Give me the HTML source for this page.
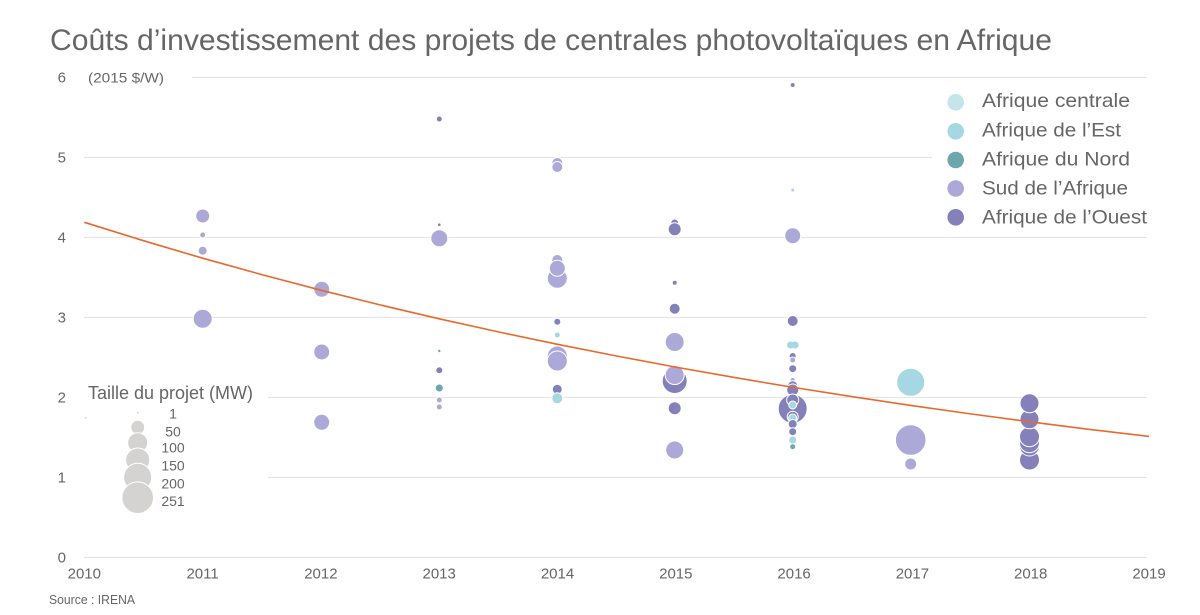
<!DOCTYPE html>
<html>
<head>
<meta charset="utf-8">
<style>
  html,body{margin:0;padding:0;background:#fff;}
  svg{display:block;}
  text{font-family:"Liberation Sans", sans-serif;fill:#666;}
</style>
</head>
<body>
<svg width="1200" height="615" viewBox="0 0 1200 615" xmlns="http://www.w3.org/2000/svg">
  <rect width="1200" height="615" fill="#fff"/>

  <!-- Title -->
  <text x="50" y="50" font-size="30" textLength="1002" lengthAdjust="spacingAndGlyphs" fill="#646464">Coûts d’investissement des projets de centrales photovoltaïques en Afrique</text>

  <!-- gridlines -->
  <g stroke="#e6e6e6" stroke-width="1.2">
    <line x1="192" y1="77.5" x2="1147" y2="77.5"/>
    <line x1="84" y1="157.5" x2="932" y2="157.5"/>
    <line x1="84" y1="237.5" x2="1147" y2="237.5"/>
    <line x1="84" y1="317.5" x2="1147" y2="317.5"/>
    <line x1="268" y1="397.5" x2="1147" y2="397.5"/>
    <line x1="268" y1="477.5" x2="1147" y2="477.5"/>
    <line x1="84" y1="557.5" x2="1147" y2="557.5"/>
  </g>

  <!-- y labels -->
  <g font-size="15" text-anchor="end">
    <text x="66" y="82.7">6</text>
    <text x="66" y="162.7">5</text>
    <text x="66" y="242.7">4</text>
    <text x="66" y="322.7">3</text>
    <text x="66" y="402.7">2</text>
    <text x="66" y="482.7">1</text>
    <text x="66" y="562.7">0</text>
  </g>
  <text x="88" y="82.5" font-size="14" textLength="76" lengthAdjust="spacingAndGlyphs">(2015 $/W)</text>

  <!-- x labels -->
  <g font-size="15" text-anchor="middle">
    <text x="84.3" y="578.5">2010</text>
    <text x="202.6" y="578.5">2011</text>
    <text x="320.9" y="578.5">2012</text>
    <text x="439.2" y="578.5">2013</text>
    <text x="557.5" y="578.5">2014</text>
    <text x="675.8" y="578.5">2015</text>
    <text x="794.1" y="578.5">2016</text>
    <text x="912.4" y="578.5">2017</text>
    <text x="1030.7" y="578.5">2018</text>
    <text x="1149" y="578.5">2019</text>
  </g>
  <text x="49" y="604" font-size="12.5" textLength="86" lengthAdjust="spacingAndGlyphs">Source : IRENA</text>

  <!-- data points -->
  <g stroke="#fff" stroke-width="1">
    <!-- 2010 -->
    <circle cx="85.7" cy="417.7" r="0.8" fill="#a5d8e2" stroke="none"/>
    <!-- 2011 -->
    <circle cx="202.7" cy="216" r="7" fill="#aca8d8"/>
    <circle cx="202.7" cy="235" r="3" fill="#aca8d8"/>
    <circle cx="202.7" cy="250.7" r="4.5" fill="#aca8d8"/>
    <circle cx="202.7" cy="318.7" r="9.5" fill="#aca8d8"/>
    <!-- 2012 -->
    <circle cx="321.7" cy="289.3" r="8" fill="#aca8d8"/>
    <circle cx="321.7" cy="352" r="8" fill="#aca8d8"/>
    <circle cx="321.7" cy="422.3" r="8" fill="#aca8d8"/>
    <!-- 2013 -->
    <circle cx="439.3" cy="119" r="2.5" fill="#8480ba" stroke="none"/>
    <circle cx="439.3" cy="224.7" r="1.3" fill="#8480ba" stroke="none"/>
    <circle cx="439.3" cy="238.3" r="8.5" fill="#aca8d8"/>
    <circle cx="439.3" cy="351" r="1.2" fill="#6ea6b0" stroke="none"/>
    <circle cx="439.3" cy="370.3" r="3.5" fill="#8480ba"/>
    <circle cx="439.3" cy="388" r="4" fill="#6ea6b0"/>
    <circle cx="439.3" cy="400" r="3" fill="#aca8d8"/>
    <circle cx="439.3" cy="407" r="3" fill="#aca8d8"/>
    <!-- 2014 -->
    <circle cx="557.3" cy="163" r="5.5" fill="#aca8d8"/>
    <circle cx="557.3" cy="167" r="5.5" fill="#aca8d8"/>
    <circle cx="557.3" cy="278.3" r="10" fill="#aca8d8"/>
    <circle cx="557.3" cy="260" r="5.5" fill="#aca8d8"/>
    <circle cx="557.3" cy="268.3" r="8" fill="#aca8d8"/>
    <circle cx="557.3" cy="321.7" r="3.5" fill="#8480ba"/>
    <circle cx="557.3" cy="335" r="3" fill="#a5d8e2"/>
    <circle cx="557.3" cy="356" r="10" fill="#aca8d8"/>
    <circle cx="557.3" cy="361" r="10" fill="#aca8d8"/>
    <circle cx="557.3" cy="389.3" r="5" fill="#8480ba"/>
    <circle cx="557.3" cy="398.3" r="5.5" fill="#a5d8e2"/>
    <!-- 2015 -->
    <circle cx="674.7" cy="223" r="4" fill="#8480ba"/>
    <circle cx="674.7" cy="229.3" r="6.5" fill="#8480ba"/>
    <circle cx="674.7" cy="282.7" r="2.5" fill="#8480ba"/>
    <circle cx="674.7" cy="308.7" r="5.5" fill="#8480ba"/>
    <circle cx="674.7" cy="342" r="9.5" fill="#aca8d8"/>
    <circle cx="674.7" cy="381" r="12.5" fill="#8480ba"/>
    <circle cx="674.7" cy="375" r="9.5" fill="#aca8d8"/>
    <circle cx="674.7" cy="408.3" r="6.5" fill="#8480ba"/>
    <circle cx="674.7" cy="450" r="9" fill="#aca8d8"/>
    <!-- 2016 -->
    <circle cx="792.7" cy="85" r="2" fill="#8480ba" stroke="none"/>
    <circle cx="792.7" cy="190" r="1.5" fill="#a5d8e2" stroke="none"/>
    <circle cx="792.7" cy="235.7" r="8" fill="#aca8d8"/>
    <circle cx="792.7" cy="321" r="5.5" fill="#8480ba"/>
    <circle cx="790.5" cy="345" r="3.5" fill="#a5d8e2" stroke="none"/>
    <circle cx="795" cy="345" r="3.5" fill="#a5d8e2" stroke="none"/>
    <circle cx="792.7" cy="356" r="3.5" fill="#8480ba"/>
    <circle cx="792.7" cy="360" r="3" fill="#aca8d8"/>
    <circle cx="792.7" cy="368.7" r="4" fill="#8480ba"/>
    <circle cx="792.7" cy="380" r="2.5" fill="#aca8d8"/>
    <circle cx="792.7" cy="385.7" r="5" fill="#8480ba"/>
    <circle cx="792.7" cy="390" r="6" fill="#8480ba"/>
    <circle cx="792.7" cy="408.7" r="14.5" fill="#8480ba"/>
    <circle cx="792.7" cy="400" r="6" fill="#8480ba"/>
    <circle cx="792.7" cy="405" r="4" fill="#a5d8e2"/>
    <circle cx="792.7" cy="416.7" r="5.5" fill="#8480ba"/>
    <circle cx="792.7" cy="418" r="4" fill="#a5d8e2"/>
    <circle cx="792.7" cy="424" r="4.5" fill="#8480ba"/>
    <circle cx="792.7" cy="431.7" r="4" fill="#8480ba"/>
    <circle cx="792.7" cy="440" r="4" fill="#a5d8e2"/>
    <circle cx="792.7" cy="446.7" r="2.5" fill="#6ea6b0" stroke="none"/>
    <!-- 2017 -->
    <circle cx="910.7" cy="382.3" r="14" fill="#a5d8e2"/>
    <circle cx="910.7" cy="440" r="15.3" fill="#aca8d8"/>
    <circle cx="910.7" cy="464" r="6" fill="#aca8d8"/>
    <!-- 2018 -->
    <circle cx="1029.5" cy="460" r="10" fill="#8480ba"/>
    <circle cx="1029.5" cy="446" r="10" fill="#8480ba"/>
    <circle cx="1029.5" cy="442.7" r="10" fill="#8480ba"/>
    <circle cx="1029.5" cy="436.7" r="10" fill="#8480ba"/>
    <circle cx="1029.5" cy="419.3" r="9.5" fill="#8480ba"/>
    <circle cx="1029.5" cy="403.3" r="9.5" fill="#8480ba"/>
  </g>

  <!-- trend line -->
  <polyline fill="none" stroke="#e8692d" stroke-width="1.6"
    points="84.3,222.3 143.45,240.7 202.6,258.2 261.75,274.6 320.9,290.2 380.05,304.9 439.2,318.8 498.35,331.9 557.5,344.3 616.65,356.0 675.8,367.1 734.95,377.6 794.1,387.5 853.25,396.8 912.4,405.7 971.55,414.0 1030.7,421.9 1089.85,429.4 1149,436.4"/>

  <!-- Legend -->
  <g>
    <circle cx="955.7" cy="102.3" r="8.3" fill="#c4e6eb"/>
    <circle cx="955.7" cy="131.3" r="8.3" fill="#a5d8e2"/>
    <circle cx="955.7" cy="160" r="8.3" fill="#6ea6b0"/>
    <circle cx="955.7" cy="188.5" r="8.3" fill="#aca8d8"/>
    <circle cx="955.7" cy="217.3" r="8.3" fill="#8480ba"/>
    <g font-size="19.5">
      <text x="982" y="107" textLength="148" lengthAdjust="spacingAndGlyphs">Afrique centrale</text>
      <text x="982" y="136.5" textLength="139" lengthAdjust="spacingAndGlyphs">Afrique de l’Est</text>
      <text x="982" y="165.5" textLength="148" lengthAdjust="spacingAndGlyphs">Afrique du Nord</text>
      <text x="982" y="194.5" textLength="146" lengthAdjust="spacingAndGlyphs">Sud de l’Afrique</text>
      <text x="982" y="223.5" textLength="165" lengthAdjust="spacingAndGlyphs">Afrique de l’Ouest</text>
    </g>
  </g>

  <!-- Size legend -->
  <text x="88" y="399" font-size="18.5" textLength="165" lengthAdjust="spacingAndGlyphs">Taille du projet (MW)</text>
  <g fill="#d4d3d2" stroke="#fff" stroke-width="1">
    <circle cx="137.7" cy="412.7" r="0.9" stroke="none"/>
    <circle cx="137.7" cy="427.3" r="7"/>
    <circle cx="137.7" cy="442.7" r="10"/>
    <circle cx="137.7" cy="460" r="12"/>
    <circle cx="137.7" cy="477.3" r="14"/>
    <circle cx="137.7" cy="497.7" r="15.8"/>
  </g>
  <g font-size="14" text-anchor="middle">
    <text x="173" y="418.5">1</text>
    <text x="173" y="436.5">50</text>
    <text x="173" y="452.5">100</text>
    <text x="173" y="470.5">150</text>
    <text x="173" y="488.5">200</text>
    <text x="173" y="506">251</text>
  </g>
</svg>
</body>
</html>
